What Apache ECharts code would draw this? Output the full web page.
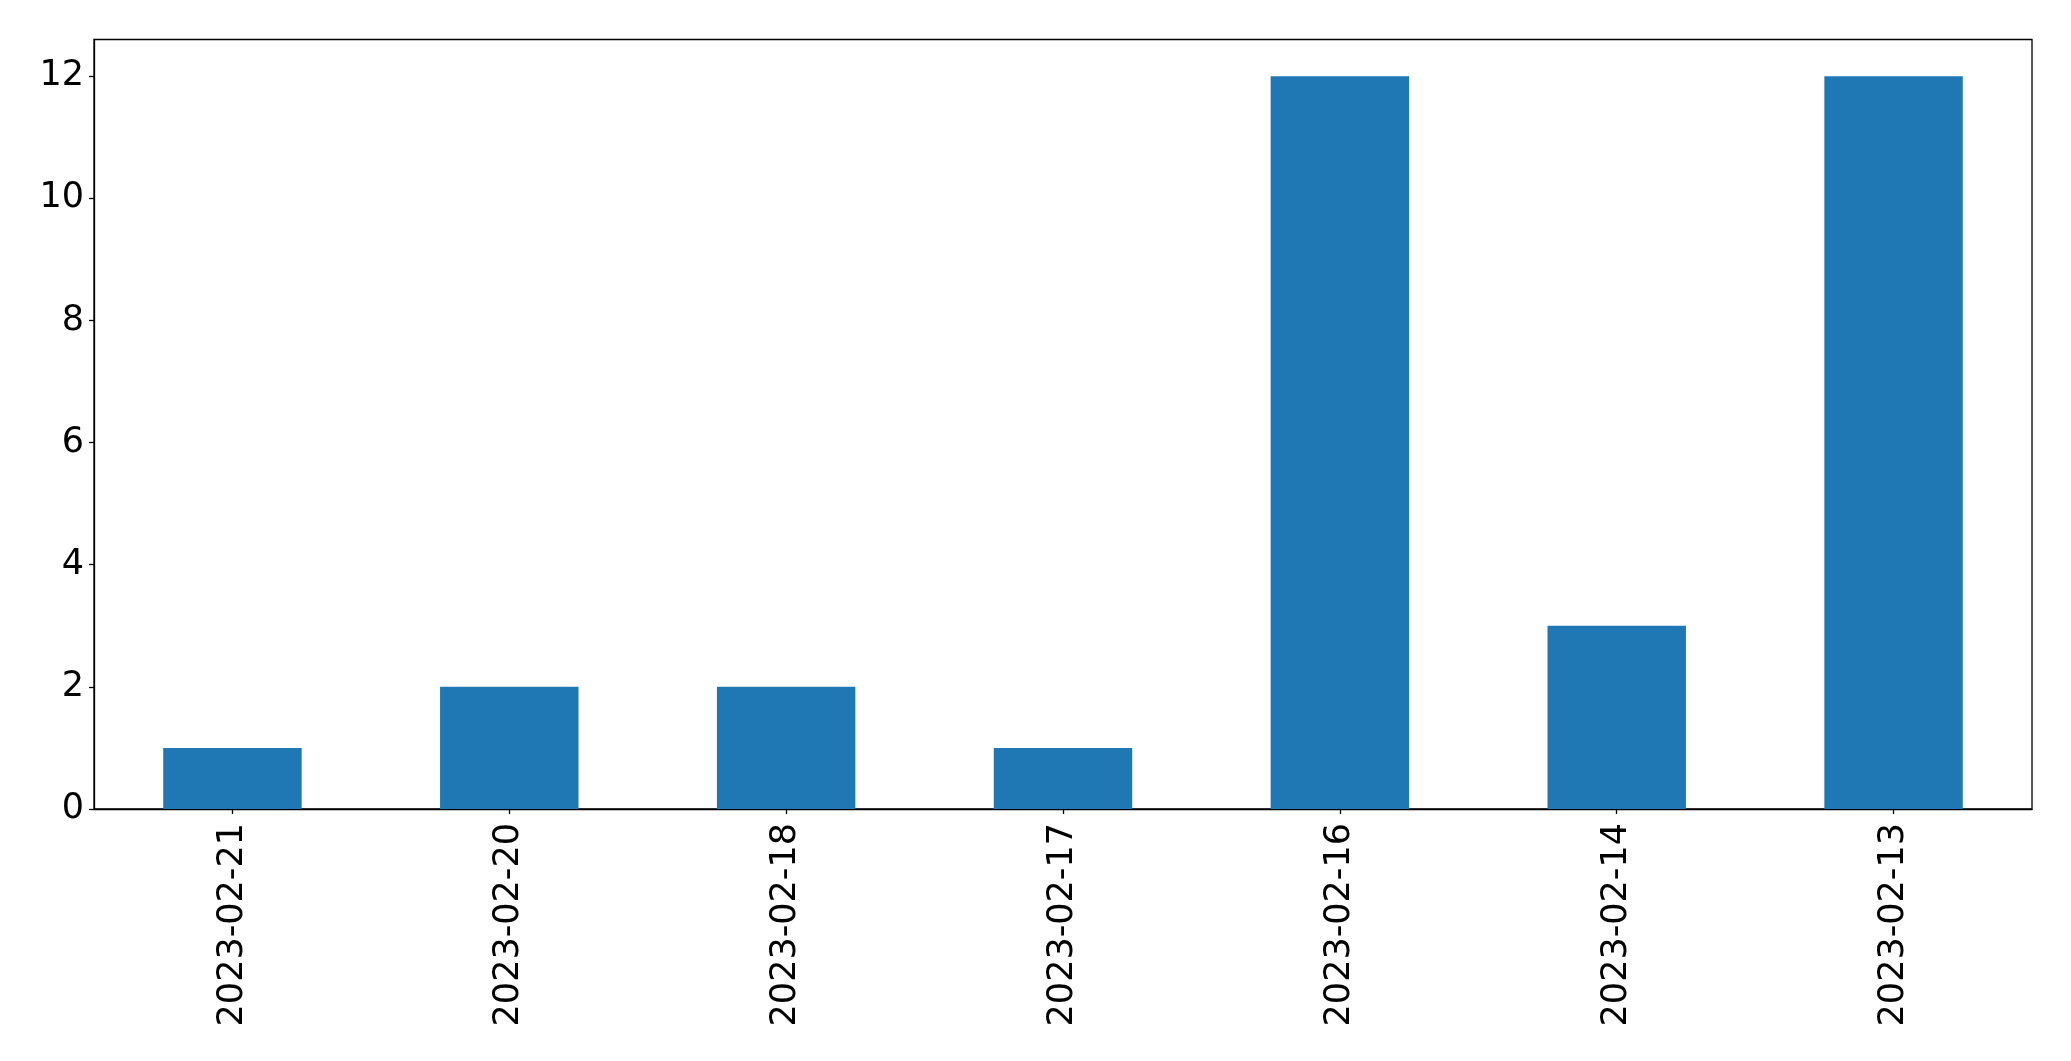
<!DOCTYPE html>
<html>
<head>
<meta charset="utf-8">
<script src="https://cdn.jsdelivr.net/npm/echarts@6/dist/echarts.min.js"></script>
<style>
html,body{margin:0;padding:0;background:#fff;}
#chart{width:2071px;height:1061px;}
</style>
</head>
<body>
<div id="chart"></div>
<script>
const categories = ['2023-02-21','2023-02-20','2023-02-18','2023-02-17','2023-02-16','2023-02-14','2023-02-13'];
const counts = [1, 2, 2, 1, 12, 3, 12];
const yTicks = [0, 2, 4, 6, 8, 10, 12];

const chart = echarts.init(document.getElementById('chart'), null, {renderer: 'canvas'});
const font = 'DejaVu Sans';
chart.setOption({
  animation: false,
  backgroundColor: '#ffffff',
  grid: {left: 94, right: 39, top: 39.5, bottom: 252, show: true, borderColor: '#000', borderWidth: 1.3, backgroundColor: 'transparent'},
  xAxis: {
    type: 'category',
    data: categories,
    boundaryGap: true,
    axisLine: {show: true, lineStyle: {color: '#000', width: 1.3}},
    axisTick: {show: true, alignWithLabel: true, length: 5, lineStyle: {color: '#000', width: 1.3}},
    axisLabel: {rotate: 90, margin: 14, color: '#000', fontFamily: font, fontSize: 35, interval: 0}
  },
  yAxis: {
    type: 'value',
    min: 0,
    max: 12.6,
    interval: 2,
    splitLine: {show: false},
    axisLine: {show: true, lineStyle: {color: '#000', width: 1.3}},
    axisTick: {show: true, length: 5, customValues: yTicks, lineStyle: {color: '#000', width: 1.3}},
    axisLabel: {margin: 10, color: '#000', fontFamily: font, fontSize: 35, customValues: yTicks}
  },
  series: [{
    type: 'bar',
    data: counts,
    barWidth: '50%',
    itemStyle: {color: '#1f77b4'}
  }]
});
</script>
</body>
</html>
